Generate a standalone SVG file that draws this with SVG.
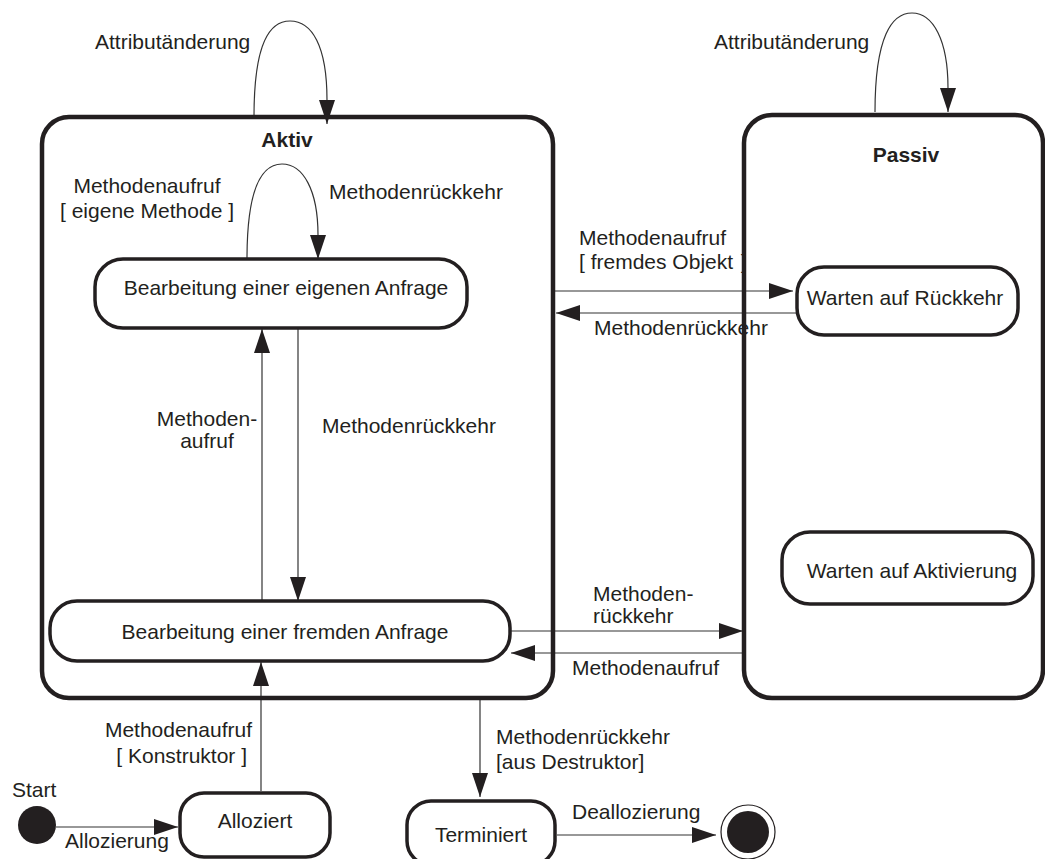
<svg xmlns="http://www.w3.org/2000/svg" width="1045" height="859" viewBox="0 0 1045 859">
  <style>
    text { font-family: "Liberation Sans", Arial, sans-serif; font-size: 21px; fill: #231f20; }
    .title { font-weight: bold; text-anchor: middle; }
    .mid { text-anchor: middle; }
    .end { text-anchor: end; }
    .super { fill: none; stroke: #231f20; stroke-width: 4.5; }
    .state { fill: none; stroke: #231f20; stroke-width: 3.5; }
    .edge { fill: none; stroke: #333; stroke-width: 1.2; marker-end: url(#arrow); }
  </style>
  <defs>
    <marker id="arrow" viewBox="0 0 24 16" refX="24" refY="8" markerWidth="24" markerHeight="16" markerUnits="userSpaceOnUse" orient="auto">
      <path d="M0,0 L24,8 L0,16 Z" fill="#231f20"/>
    </marker>
  </defs>

  <rect width="1045" height="859" fill="#fff"/>

  <!-- transitions and their labels -->
  <g id="connectors">
    <!-- self transitions -->
    <path class="edge" d="M254,117 C254,42 270,21 290,21 C312,21 327,46 327,100 L327,124"/>
    <text x="95" y="49">Attributänderung</text>
    <path class="edge" d="M875,112 C875,36 892,13 912,13 C933,13 948,40 948,88 L948,112"/>
    <text x="714" y="49">Attributänderung</text>
    <path class="edge" d="M247,259 C247,186 263,164 282,164 C303,164 318,190 318,235 L318,259"/>
    <text class="mid" x="147" y="193">Methodenaufruf</text>
    <text class="mid" x="147" y="218">[ eigene Methode ]</text>
    <text x="329" y="199">Methodenrückkehr</text>

    <!-- Aktiv <-> Warten auf Rückkehr -->
    <path class="edge" d="M555,291 L793,291"/>
    <path class="edge" d="M797,313 L556,313"/>
    <text x="579" y="245">Methodenaufruf</text>
    <text x="579" y="269">[ fremdes Objekt <tspan dx="2">]</tspan></text>
    <text x="594" y="335">Methodenrückkehr</text>

    <!-- between the two request states -->
    <path class="edge" d="M262,601 L262,329"/>
    <path class="edge" d="M298,329 L298,601"/>
    <text class="mid" x="207" y="426">Methoden-</text>
    <text class="mid" x="207" y="448">aufruf</text>
    <text x="322" y="433">Methodenrückkehr</text>

    <!-- fremde Anfrage <-> Passiv -->
    <path class="edge" d="M510,631 L743,631"/>
    <path class="edge" d="M743,653 L511,653"/>
    <text x="593" y="601">Methoden-</text>
    <text x="593" y="623">rückkehr</text>
    <text x="572" y="675">Methodenaufruf</text>

    <!-- life cycle -->
    <path class="edge" d="M56,827 L178,827"/>
    <text x="65" y="848">Allozierung</text>
    <path class="edge" d="M261,791 L261,662"/>
    <text class="end" x="252" y="737">Methodenaufruf</text>
    <text class="end" x="247" y="763">[ Konstruktor ]</text>
    <path class="edge" d="M480,699 L480,797"/>
    <text x="496" y="744">Methodenrückkehr</text>
    <text x="496" y="769">[aus Destruktor]</text>
    <path class="edge" d="M557,835 L716,835"/>
    <text x="572" y="819">Deallozierung</text>
  </g>

  <g id="aktiv">
    <rect class="super" x="42" y="117" width="511" height="581" rx="27"/>
    <text class="title" x="287" y="147">Aktiv</text>
  </g>

  <g id="passiv">
    <rect class="super" x="744" y="115" width="299" height="583" rx="28"/>
    <text class="title" x="906" y="162">Passiv</text>
  </g>

  <g id="eigene-anfrage">
    <rect class="state" x="95" y="259" width="372" height="69" rx="28"/>
    <text class="mid" x="286" y="295">Bearbeitung einer eigenen Anfrage</text>
  </g>

  <g id="fremde-anfrage">
    <rect class="state" x="50" y="601" width="460" height="60" rx="27"/>
    <text class="mid" x="285" y="639">Bearbeitung einer fremden Anfrage</text>
  </g>

  <g id="warten-rueckkehr">
    <rect class="state" x="797" y="267" width="221" height="68" rx="27"/>
    <text class="mid" x="905" y="305">Warten auf Rückkehr</text>
  </g>

  <g id="warten-aktivierung">
    <rect class="state" x="782" y="532" width="251" height="72" rx="28"/>
    <text class="mid" x="912" y="578">Warten auf Aktivierung</text>
  </g>

  <g id="start">
    <circle cx="37" cy="825" r="19" fill="#231f20"/>
    <text x="12" y="797">Start</text>
  </g>

  <g id="alloziert">
    <rect class="state" x="180" y="793" width="150" height="64" rx="24"/>
    <text class="mid" x="255" y="828">Alloziert</text>
  </g>

  <g id="terminiert">
    <rect class="state" x="407" y="801" width="148" height="64" rx="24"/>
    <text class="mid" x="481" y="842">Terminiert</text>
  </g>

  <g id="ende">
    <circle cx="748" cy="832" r="27" fill="none" stroke="#231f20" stroke-width="1.2"/>
    <circle cx="748" cy="832" r="21" fill="#231f20"/>
  </g>
</svg>
